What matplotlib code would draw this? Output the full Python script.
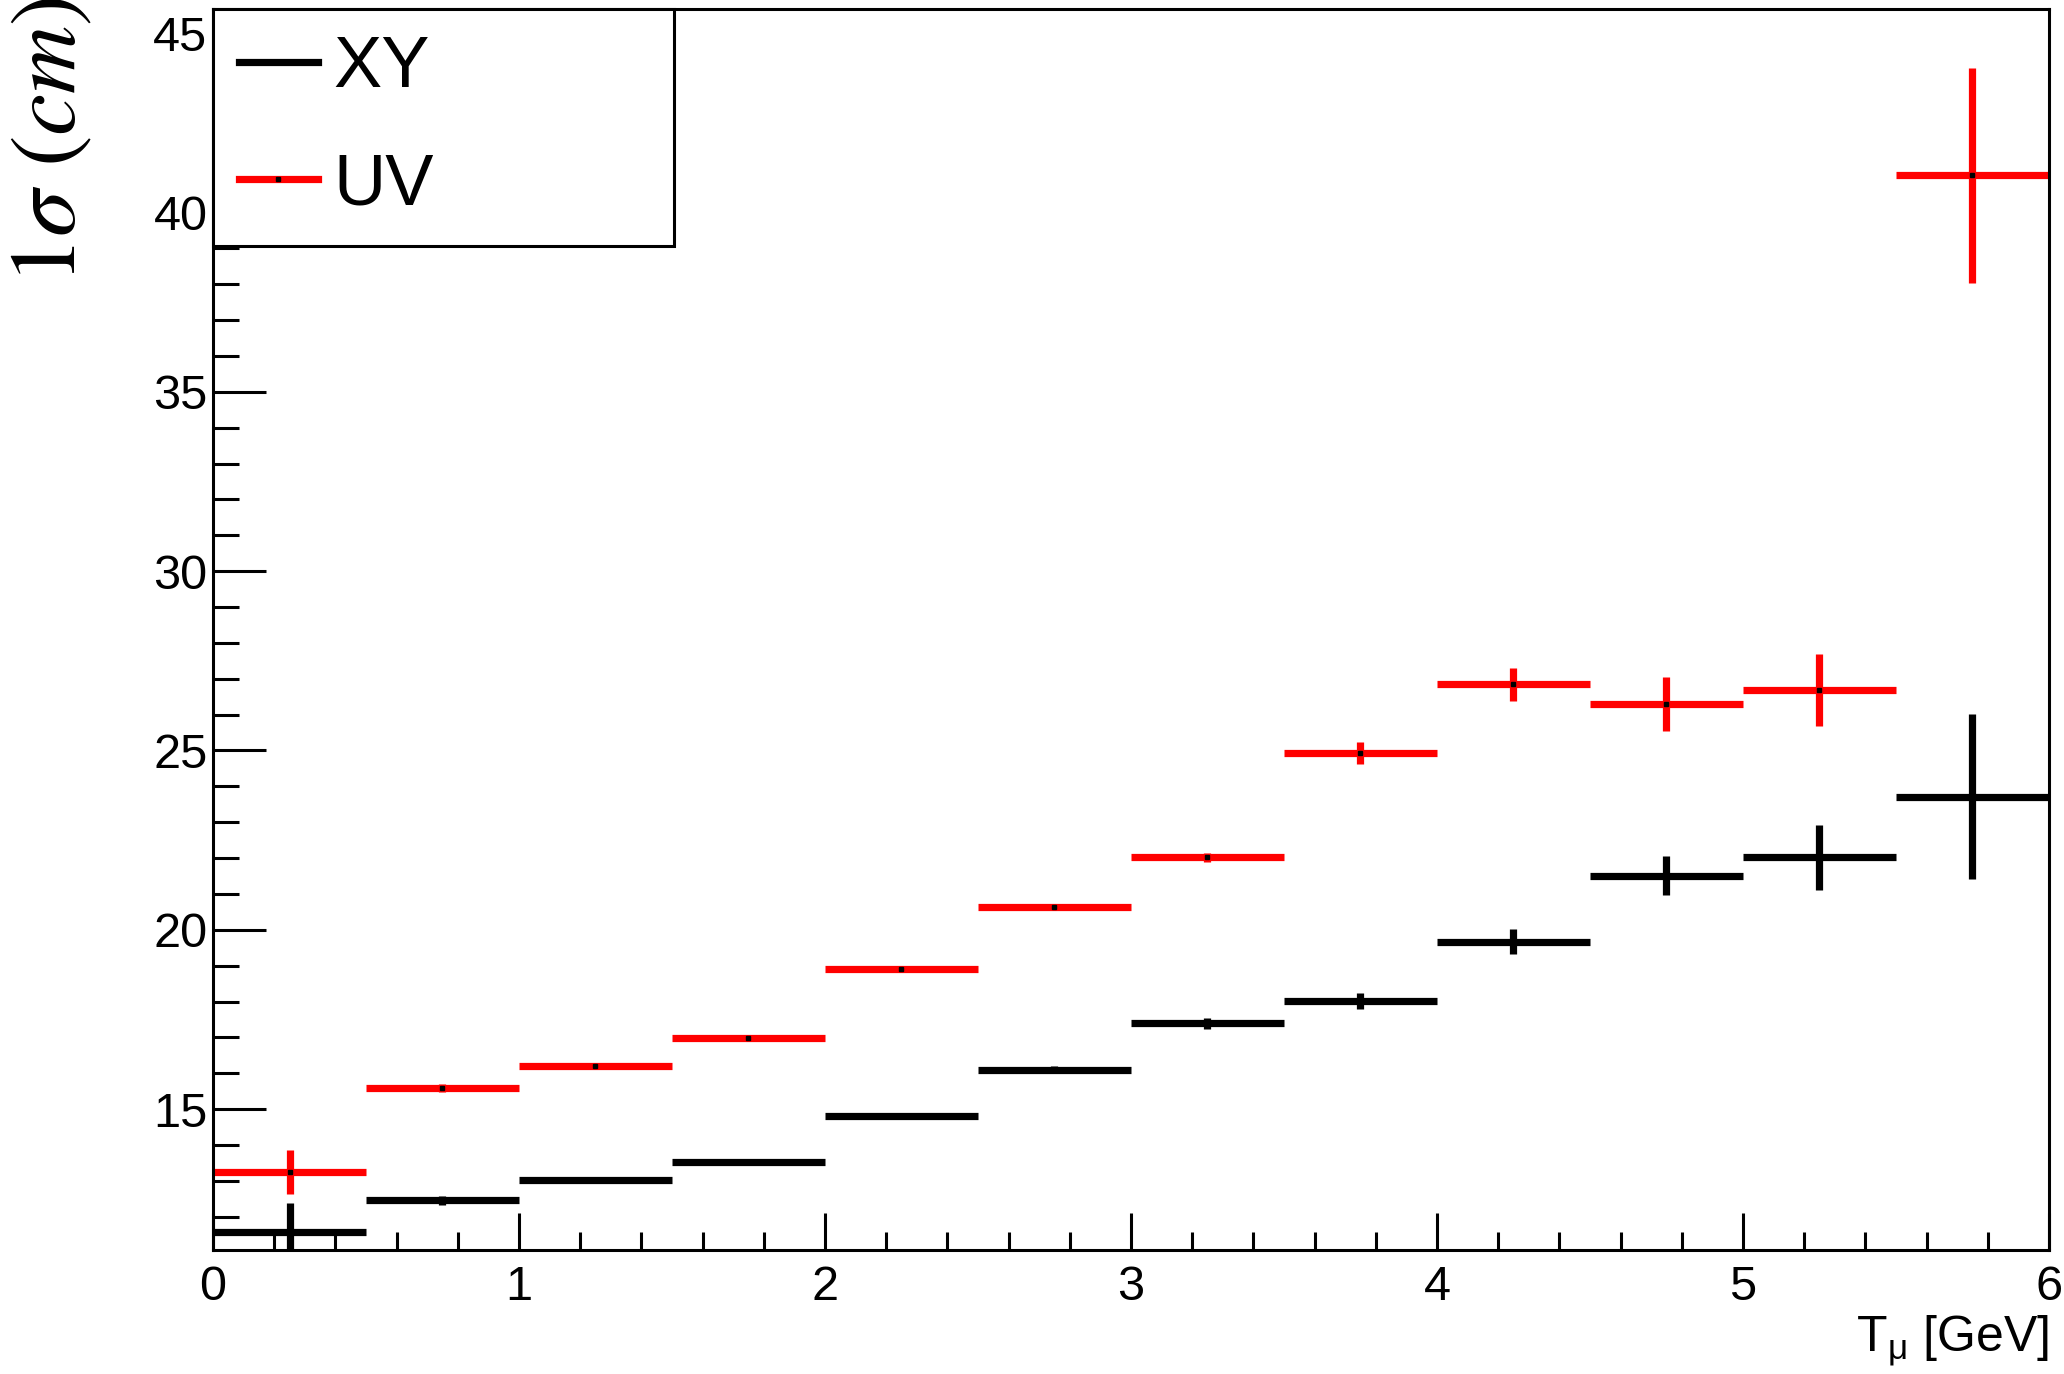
import matplotlib
matplotlib.use("Agg")
import matplotlib.pyplot as plt
from matplotlib.lines import Line2D
from matplotlib.ticker import MultipleLocator
import numpy as np

plt.rcParams['font.family'] = ['Liberation Sans', 'DejaVu Sans']
plt.rcParams['mathtext.fontset'] = 'custom'
plt.rcParams['mathtext.rm'] = 'Liberation Sans'
plt.rcParams['mathtext.it'] = 'Liberation Sans:italic'

# muon kinetic energy bins (GeV)
bin_centers = [0.25, 0.75, 1.25, 1.75, 2.25, 2.75, 3.25, 3.75, 4.25, 4.75, 5.25, 5.75]
bin_half_width = 0.25

# 1 sigma resolution (cm)
xy_sigma = [11.57, 12.46, 13.01, 13.53, 14.82, 16.10, 17.39, 18.01, 19.67, 21.51, 22.02, 23.71]
xy_err = [0.81, 0.12, 0.05, 0.05, 0.05, 0.10, 0.15, 0.22, 0.35, 0.55, 0.90, 2.30]
uv_sigma = [13.24, 15.59, 16.21, 16.99, 18.90, 20.63, 22.02, 24.93, 26.84, 26.29, 26.69, 41.03]
uv_err = [0.61, 0.12, 0.05, 0.05, 0.05, 0.08, 0.12, 0.30, 0.45, 0.75, 1.00, 3.00]

fig = plt.figure(figsize=(20.64, 13.74), dpi=100)
ax = fig.add_axes([0.1032, 0.0902, 0.8895, 0.9032])

x = np.array(bin_centers)
for vals, errs, col in [(xy_sigma, xy_err, 'black'), (uv_sigma, uv_err, 'red')]:
    ax.errorbar(x, vals, xerr=bin_half_width, yerr=errs, fmt='s', ms=2.5,
                mfc='black', mec='black', ecolor=col, elinewidth=5.2, capsize=0)

ax.set_xlim(0, 6)
ax.set_ylim(11.07, 45.67)

ax.xaxis.set_major_locator(MultipleLocator(1))
ax.xaxis.set_minor_locator(MultipleLocator(0.2))
ax.yaxis.set_major_locator(MultipleLocator(5))
ax.yaxis.set_minor_locator(MultipleLocator(1))
ax.set_yticks([15, 20, 25, 30, 35, 40, 45])

for s in ax.spines.values():
    s.set_linewidth(2.2)
ax.tick_params(axis='both', which='both', direction='in', width=2.2,
               top=False, right=False, labelsize=35)
ax.tick_params(axis='y', which='major', length=38, pad=4)
ax.tick_params(axis='y', which='minor', length=19)
ax.tick_params(axis='x', which='major', length=27, pad=11)
ax.tick_params(axis='x', which='minor', length=13)

ax.set_xlabel(r'T$_{\mathrm{\mu}}$ [GeV]', fontsize=36, loc='right')
ax.xaxis.set_label_coords(1.0, -0.051)
ax.xaxis.label.set_va('top')

ax.set_ylabel(r'$1\sigma\ (cm)$', fontsize=68, loc='top', math_fontfamily='stix')
ax.yaxis.set_label_coords(-0.064, 1.01)

handles = [Line2D([], [], color='black', lw=5.2, marker='s', ms=2.5, mfc='black', mec='black'),
           Line2D([], [], color='red', lw=5.2, marker='s', ms=2.5, mfc='black', mec='black')]
leg = ax.legend(handles, ['XY', 'UV'], loc='upper left', bbox_to_anchor=(0, 0.813, 0.251, 0.187),
                mode='expand', borderaxespad=0, fontsize=52, numpoints=1,
                handlelength=1.09, handletextpad=0.22, borderpad=0.36, labelspacing=0.7,
                fancybox=False, edgecolor='black', framealpha=1)
leg.get_frame().set_linewidth(2.2)

fig.savefig('out.png', dpi=100)
